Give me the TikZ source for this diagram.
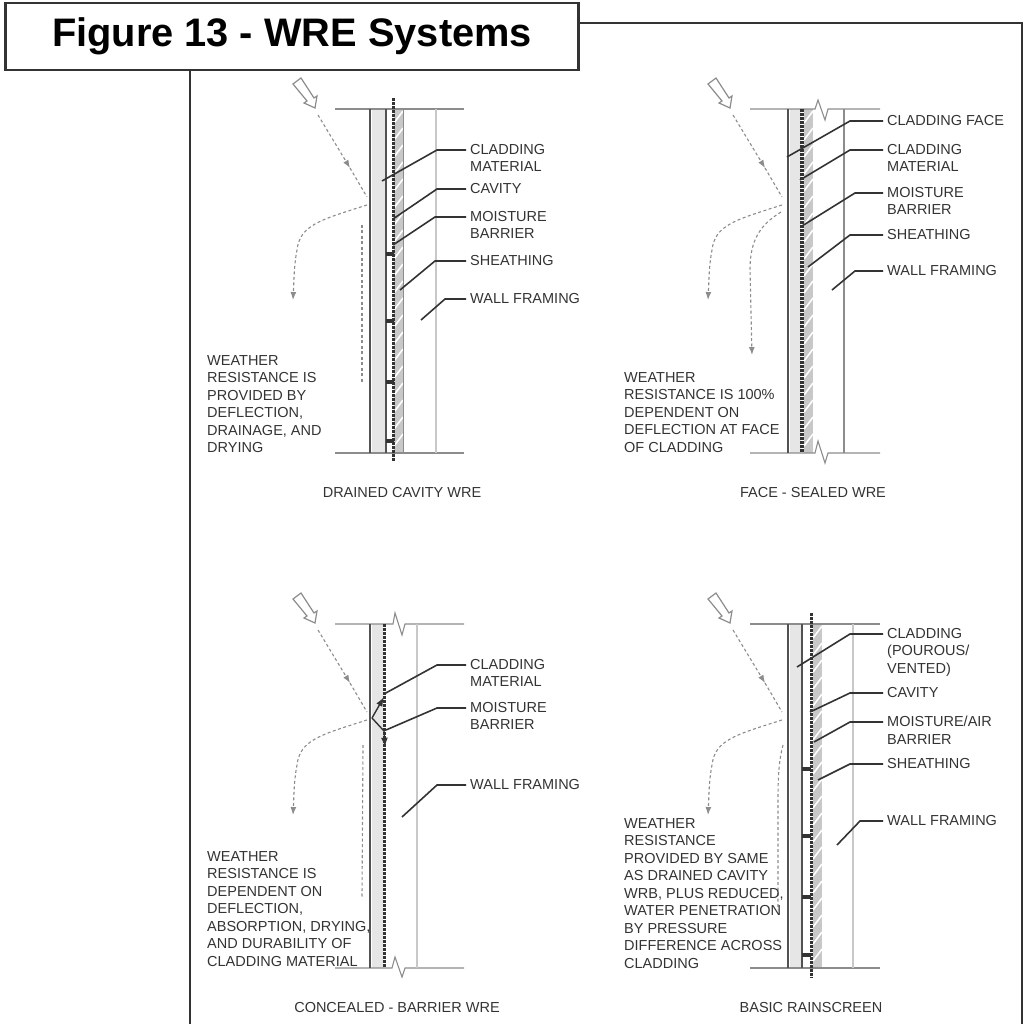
\documentclass[tikz,border=0pt]{standalone}
\usepackage{fontspec}
\setmainfont{Liberation Sans}
\usetikzlibrary{positioning,arrows.meta,calc}
\definecolor{ink}{HTML}{333333}
\definecolor{muted}{HTML}{8C8C8C}
\definecolor{pale}{HTML}{C8C8C8}
\begin{document}
\begin{tikzpicture}[x=1pt, y=-1pt, >=Latex,
    lbl/.style={anchor=north west, align=left, inner sep=0pt, yshift=-1pt, text=ink, font=\fontsize{14.5}{17.5}\selectfont},
    caption/.style={inner sep=0pt, yshift=-1pt, text=ink, font=\fontsize{14.5}{17.5}\selectfont},
    leader/.style={ink, line width=1.6pt},
    rain/.style={muted, line width=1.1pt, dash pattern=on 3pt off 2.5pt},
    wall/.style={ink!85, line width=1.8pt},
    frontwall/.style={ink!85, line width=2.8pt},
    framing/.style={pale, line width=2pt},
    ruleline/.style={muted, line width=1.1pt},
    cladding/.style={ink, line width=3pt, dash pattern=on 3pt off 1pt},
    furring/.style={ink, line width=3.5pt}]
  \useasboundingbox (0,0) rectangle (1029,1024);
  % outer frame and title
  \draw[ink, line width=1.2pt] (190,1024) -- (190,23) -- (1022,23) -- (1022,1024);
  \node[draw=ink, fill=white, line width=2.6pt, minimum width=573pt, minimum height=67pt, inner sep=0pt,
        font=\fontsize{39.8}{44}\selectfont\bfseries] (title) at (292,36.5) {Figure 13 - WRE Systems};
  % wind block and water paths, same in all four
  \foreach \ox/\oy in {0/0,415/0,0/515,415/515} {
    \begin{scope}[shift={(\ox,\oy)}]
      \draw[muted, line width=1.2pt, fill=white] (293,84) -- (301,78) -- (314,98) -- (317,96) -- (315,108) -- (304,103) -- (307,101) -- cycle;
      \draw[rain,->] (318,115) -- (350,168);
      \draw[rain] (350,168) -- (367,197);
      \draw[rain,->] (367,205) .. controls (320,220) and (300,225) .. (297,250) .. controls (294,265) and (294,280) .. (293,300);
    \end{scope}
  }
  % panel 1 - drained cavity
  \fill[pale!45] (372,109) rectangle (386,453);
  \fill[pale] (394,109) rectangle (403,453);
  \foreach \y in {109,126,...,436} { \draw[white, line width=1.6pt] (394,\y+14) -- (403,\y+2); }
  \draw[ruleline] (335,109) -- (464,109);
  \draw[ruleline] (335,453) -- (464,453);
  \draw[frontwall] (370,109) -- (370,453);
  \draw[wall] (386,109) -- (386,453);
  \draw[cladding] (393,98) -- (393,462);
  \draw[muted, line width=0.8pt] (403,109) -- (403,453);
  \draw[framing] (436,109) -- (436,453);
  \foreach \y in {254,321,382,441} { \draw[furring] (386,\y) -- (394,\y); }
  \draw[rain] (362,225) -- (362,382);
  % panel 2 - face sealed
  \fill[pale!45] (790,109) rectangle (801,453);
  \fill[pale] (804,109) rectangle (813,453);
  \foreach \y in {109,126,...,436} { \draw[white, line width=1.6pt] (804,\y+14) -- (813,\y+2); }
  \draw[ruleline] (750,109) -- (815,109) -- (818,100) -- (825,120) -- (828,109) -- (880,109);
  \draw[ruleline] (750,453) -- (815,453) -- (818,441) -- (825,463) -- (828,453) -- (880,453);
  \draw[frontwall] (788,109) -- (788,453);
  \draw[cladding, line width=3.6pt] (802,109) -- (802,453);
  \draw[muted, line width=1.2pt] (844,109) -- (844,453);
  \draw[rain,->] (781,212) .. controls (760,225) and (750,240) .. (750,270) -- (752,355);
  % panel 3 - concealed barrier
  \fill[pale!45] (372,624) rectangle (383,968);
  \draw[ruleline] (335,624) -- (393,624) -- (395,613) -- (402,635) -- (405,624) -- (464,624);
  \draw[ruleline] (335,968) -- (392,968) -- (395,957) -- (402,977) -- (405,968) -- (464,968);
  \draw[frontwall] (370,624) -- (370,968);
  \draw[cladding] (384,624) -- (384,968);
  \draw[framing] (417,624) -- (417,968);
  \draw[ink, line width=1.4pt, ->] (372,718) -- (384,697);
  \draw[ink, line width=1.4pt, ->] (372,718) -- (384,731) -- (385,747);
  \draw[rain] (363,745) -- (362,897);
  % panel 4 - rainscreen
  \fill[pale!45] (790,624) rectangle (802,968);
  \fill[pale] (813,624) rectangle (822,968);
  \foreach \y in {624,641,...,951} { \draw[white, line width=1.6pt] (813,\y+14) -- (822,\y+2); }
  \draw[ruleline] (750,624) -- (880,624);
  \draw[ruleline] (750,968) -- (880,968);
  \draw[wall, line width=2.2pt] (788,624) -- (788,968);
  \draw[wall, line width=2.2pt] (802,624) -- (802,968);
  \draw[cladding] (811,613) -- (811,978);
  \draw[framing] (853,624) -- (853,968);
  \foreach \y in {769,836,897,955} { \draw[furring] (802,\y) -- (811,\y); }
  \draw[rain] (783,745) .. controls (779,760) and (778,775) .. (778,800) -- (778,910);
  % leader labels: name/x/top/elbow x/tip x/tip y/text
  \foreach \nm/\lx/\ly/\kx/\ex/\ey/\txt in {
      cladA/470/143/437/382/181/{CLADDING\\MATERIAL},
      cavA/470/182/437/393/219/{CAVITY},
      barA/470/210/435/393/245/{MOISTURE\\BARRIER},
      sheA/470/254/435/400/290/{SHEATHING},
      fraA/470/292/445/421/320/{WALL FRAMING},
      faceB/887/114/850/787/157/{CLADDING FACE},
      cladB/887/143/850/800/180/{CLADDING\\MATERIAL},
      barB/887/186/855/802/226/{MOISTURE\\BARRIER},
      sheB/887/228/850/808/267/{SHEATHING},
      fraB/887/264/855/832/290/{WALL FRAMING},
      cladC/470/658/437/384/694/{CLADDING\\MATERIAL},
      barC/470/701/437/386/730/{MOISTURE\\BARRIER},
      fraC/470/778/437/402/817/{WALL FRAMING},
      cladD/887/627/850/797/667/{CLADDING\\(POUROUS/\\VENTED)},
      cavD/887/686/850/810/712/{CAVITY},
      barD/887/715/850/814/742/{MOISTURE/AIR\\BARRIER},
      sheD/887/757/850/818/780/{SHEATHING},
      fraD/887/814/860/837/845/{WALL FRAMING}} {
    \node[lbl] (\nm) at (\lx,\ly) {\txt};
    \coordinate (\nm s) at ([xshift=-4pt,yshift=-6pt]\nm.north west);
    \coordinate (\nm k) at (\kx,0);
    \coordinate (\nm t) at (\ex,\ey);
    \draw[leader] (\nm s) -- (\nm s -| \nm k) -- (\nm t);
  }
  % notes at left of each detail
  \node[lbl] (noteA) at (207,354) {WEATHER\\RESISTANCE IS\\PROVIDED BY\\DEFLECTION,\\DRAINAGE, AND\\DRYING};
  \node[lbl] (noteB) at (624,371) {WEATHER\\RESISTANCE IS 100\%\\DEPENDENT ON\\DEFLECTION AT FACE\\OF CLADDING};
  \node[lbl] (noteC) at (207,850) {WEATHER\\RESISTANCE IS\\DEPENDENT ON\\DEFLECTION,\\ABSORPTION, DRYING,\\AND DURABILITY OF\\CLADDING MATERIAL};
  \node[lbl] (noteD) at (624,817) {WEATHER\\RESISTANCE\\PROVIDED BY SAME\\AS DRAINED CAVITY\\WRB, PLUS REDUCED,\\WATER PENETRATION\\BY PRESSURE\\DIFFERENCE ACROSS\\CLADDING};
  % captions
  \node[caption] (capA) at (402,492) {DRAINED CAVITY WRE};
  \node[caption] (capB) at (813,492) {FACE - SEALED WRE};
  \node[caption] (capC) at (397,1007) {CONCEALED - BARRIER WRE};
  \node[caption] (capD) at (811,1007) {BASIC RAINSCREEN};
\end{tikzpicture}
\end{document}
